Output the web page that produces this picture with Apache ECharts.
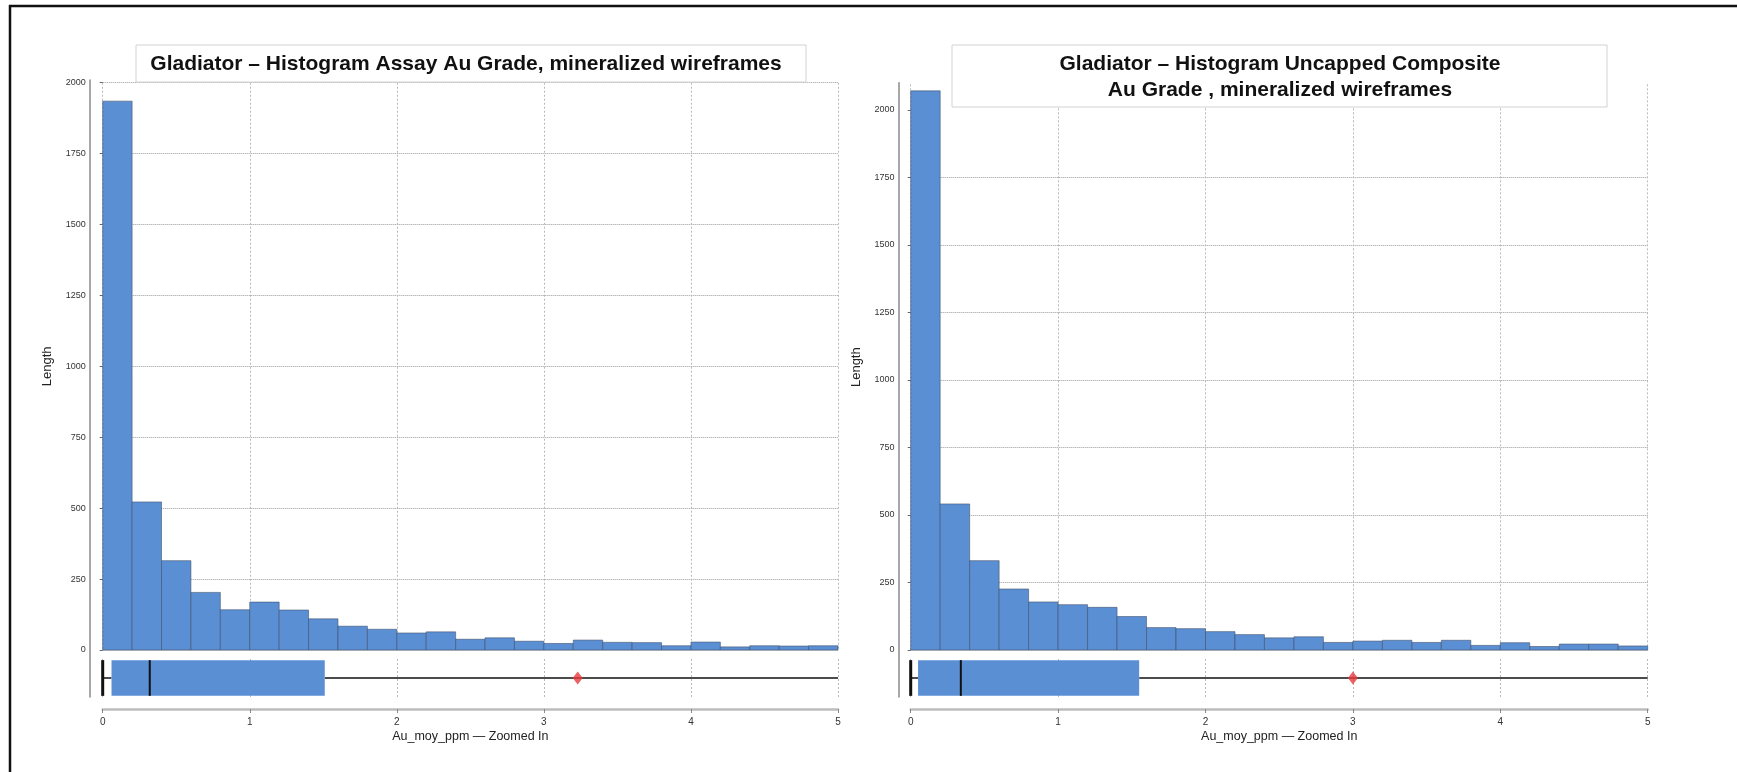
<!DOCTYPE html>
<html><head><meta charset="utf-8">
<script src="https://cdn.jsdelivr.net/npm/echarts@6/dist/echarts.min.js"></script>
<style>html,body{margin:0;padding:0;background:#fff}#c{width:1737px;height:772px}</style>
</head><body><div id="c"></div>
<script>
// ---- data ----
const binEdges = [0,0.2,0.4,0.6,0.8,1.0,1.2,1.4,1.6,1.8,2.0,2.2,2.4,2.6,2.8,3.0,3.2,3.4,3.6,3.8,4.0,4.2,4.4,4.6,4.8,5.0];
const leftCounts  = [1935,522,315,203,142,169,141,110,84,73,60,64,38,43,31,23,35,27,26,15,28,11,15,14,15];
const rightCounts = [2071,541,331,226,178,168,158,124,83,79,68,57,45,49,28,33,36,28,36,17,27,13,22,22,15];
// box stats: [lower whisker, Q1, median, Q3, upper whisker (beyond zoomed view)]
const leftBox  = [0, 0.06, 0.32, 1.51, 6];
const rightBox = [0, 0.05, 0.34, 1.55, 6];
const leftMean = 3.23;
const rightMean = 3.0;
const yTicks = [0,250,500,750,1000,1250,1500,1750,2000];
const xTicks = [0,1,2,3,4,5];
const leftTitle = 'Gladiator \u2013 Histogram Assay Au Grade, mineralized wireframes';
const rightTitle = 'Gladiator \u2013 Histogram Uncapped Composite\nAu Grade , mineralized wireframes';
const xName = 'Au_moy_ppm \u2014 Zoomed In';
const yName = 'Length';

// ---- styling ----
const FONT = '"Liberation Sans", Arial, Helvetica, sans-serif';
const BLUE = '#5b8fd4';

function histItem(params, api) {
  const p0 = api.coord([api.value(0), api.value(2)]);
  const p1 = api.coord([api.value(1), 0]);
  return {type: 'rect',
    shape: {x: p0[0], y: p0[1], width: p1[0] - p0[0], height: p1[1] - p0[1]},
    style: {fill: BLUE, stroke: 'rgba(60,75,100,0.55)', lineWidth: 1}};
}
function boxItem(params, api) {
  const cat = api.value(0);
  const xs = [1,2,3,4,5].map(i => api.coord([api.value(i), cat])[0]);
  const yc = api.coord([api.value(1), cat])[1];
  const h = api.size([0, 1])[1] * 0.94;
  const cs = params.coordSys;
  const xmax = Math.min(xs[4], cs.x + cs.width);
  const xmin = Math.max(xs[0], cs.x);
  return {type: 'group', children: [
    {type: 'line', shape: {x1: xmin, y1: yc, x2: xs[1], y2: yc}, style: {stroke: '#111', lineWidth: 1.5}},
    {type: 'line', shape: {x1: xs[3], y1: yc, x2: xmax, y2: yc}, style: {stroke: '#111', lineWidth: 1.5}},
    {type: 'line', shape: {x1: xs[0], y1: yc - h/2, x2: xs[0], y2: yc + h/2}, style: {stroke: '#111', lineWidth: 3}},
    {type: 'rect', shape: {x: xs[1], y: yc - h/2, width: xs[3] - xs[1], height: h}, style: {fill: BLUE}},
    {type: 'line', shape: {x1: xs[2], y1: yc - h/2, x2: xs[2], y2: yc + h/2}, style: {stroke: '#111', lineWidth: 2}}
  ]};
}
function histData(counts) {
  return counts.map((c, i) => [binEdges[i], binEdges[i+1], c]);
}

const gridSplitV = {show: true, lineStyle: {type: [2, 2], color: '#b8b8b8', width: 1}};
const gridSplitH = {show: true, lineStyle: {type: 'dotted', color: '#9a9a9a', width: 1}};
const plain = v => String(v);

function histX(gi) {
  return {gridIndex: gi, type: 'value', min: 0, max: 5, interval: 1,
    axisLine: {show: true, lineStyle: {color: '#cfcfcf', width: 1}},
    axisTick: {show: false}, axisLabel: {show: false}, splitLine: gridSplitV};
}
function boxX(gi) {
  return {gridIndex: gi, type: 'value', min: 0, max: 5, interval: 1, position: 'bottom', offset: 12,
    axisLine: {show: true, lineStyle: {color: '#bdbdbd', width: 2.5}},
    axisTick: {show: true, length: 4, lineStyle: {color: '#888'}},
    axisLabel: {fontSize: 10, color: '#333', margin: 8, fontFamily: FONT, formatter: plain},
    splitLine: gridSplitV,
    name: xName, nameLocation: 'middle', nameGap: 21,
    nameTextStyle: {fontSize: 12.5, color: '#222', fontFamily: FONT}};
}
function histY(gi, max, off) {
  return {gridIndex: gi, type: 'value', min: 0, max: max, interval: 250, offset: off,
    axisLine: {show: false},
    axisTick: {show: true, length: 3, lineStyle: {color: '#666'}, customValues: yTicks},
    axisLabel: {fontSize: 9, color: '#333', margin: 4, fontFamily: FONT, customValues: yTicks, formatter: plain},
    splitLine: Object.assign({showMaxLine: max === 2000}, gridSplitH),
    name: yName, nameLocation: 'middle', nameRotate: 90, nameGap: 36,
    nameTextStyle: {fontSize: 13, color: '#222', fontFamily: FONT}};
}
function lineY(gi) {
  return {gridIndex: gi, type: 'value', min: 0, max: 1,
    axisLine: {show: true, lineStyle: {color: '#8a8a8a', width: 1.5}},
    axisTick: {show: false}, axisLabel: {show: false}, splitLine: {show: false}};
}

const option = {
  animation: false,
  backgroundColor: '#fff',
  textStyle: {fontFamily: FONT},
  grid: [
    {left: 102.7, top: 82.7, width: 735.3, height: 567.3, outerBoundsMode: 'none'},
    {left: 102.7, top: 659, width: 735.3, height: 38, outerBoundsMode: 'none'},
    {left: 910.7, top: 84.35, width: 737, height: 565.65, outerBoundsMode: 'none'},
    {left: 910.7, top: 659, width: 737, height: 38, outerBoundsMode: 'none'},
    {left: 89.7, top: 80, width: 5, height: 617, outerBoundsMode: 'none'},
    {left: 898.5, top: 82.7, width: 5, height: 614.3, outerBoundsMode: 'none'}
  ],
  xAxis: [histX(0), boxX(1), histX(2), boxX(3),
    {gridIndex: 4, type: 'value', show: false}, {gridIndex: 5, type: 'value', show: false}],
  yAxis: [histY(0, 2000, 13),
    {gridIndex: 1, type: 'category', data: ['box'], show: false},
    histY(2, 2095, 12.2),
    {gridIndex: 3, type: 'category', data: ['box'], show: false},
    lineY(4), lineY(5)],
  series: [
    {type: 'custom', xAxisIndex: 0, yAxisIndex: 0, renderItem: histItem, data: histData(leftCounts), encode: {x: [0, 1], y: 2}, z: 3},
    {type: 'custom', xAxisIndex: 1, yAxisIndex: 1, renderItem: boxItem, data: [[0].concat(leftBox)], encode: {y: 0, x: [1, 2, 3, 4, 5]}, z: 3},
    {type: 'scatter', xAxisIndex: 1, yAxisIndex: 1, data: [[leftMean, 0]], symbol: 'diamond', symbolSize: [10, 13], itemStyle: {color: '#e8383d'}, z: 5},
    {type: 'custom', xAxisIndex: 2, yAxisIndex: 2, renderItem: histItem, data: histData(rightCounts), encode: {x: [0, 1], y: 2}, z: 3},
    {type: 'custom', xAxisIndex: 3, yAxisIndex: 3, renderItem: boxItem, data: [[0].concat(rightBox)], encode: {y: 0, x: [1, 2, 3, 4, 5]}, z: 3},
    {type: 'scatter', xAxisIndex: 3, yAxisIndex: 3, data: [[rightMean, 0]], symbol: 'diamond', symbolSize: [10, 13], itemStyle: {color: '#e8383d'}, z: 5}
  ],
  graphic: [
    {type: 'line', shape: {x1: 9, y1: 6, x2: 1737, y2: 6}, style: {stroke: '#111', lineWidth: 2.5}, z: 200},
    {type: 'line', shape: {x1: 10, y1: 5, x2: 10, y2: 772}, style: {stroke: '#111', lineWidth: 2.5}, z: 200},
    {type: 'rect', shape: {x: 136, y: 45, width: 670, height: 37}, style: {fill: '#fff', stroke: '#d2d2d2', lineWidth: 1}, z: 100},
    {type: 'text', x: 466, y: 64, style: {text: leftTitle, font: 'bold 21px ' + FONT, fill: '#111', textAlign: 'center', textVerticalAlign: 'middle'}, z: 101},
    {type: 'rect', shape: {x: 952, y: 45, width: 655, height: 62}, style: {fill: '#fff', stroke: '#d2d2d2', lineWidth: 1}, z: 100},
    {type: 'text', x: 1280, y: 77, style: {text: rightTitle, font: 'bold 21px ' + FONT, lineHeight: 26, fill: '#111', textAlign: 'center', textVerticalAlign: 'middle'}, z: 101}
  ]
};
const chart = echarts.init(document.getElementById('c'), null, {renderer: 'canvas'});
chart.setOption(option);
</script>
</body></html>
